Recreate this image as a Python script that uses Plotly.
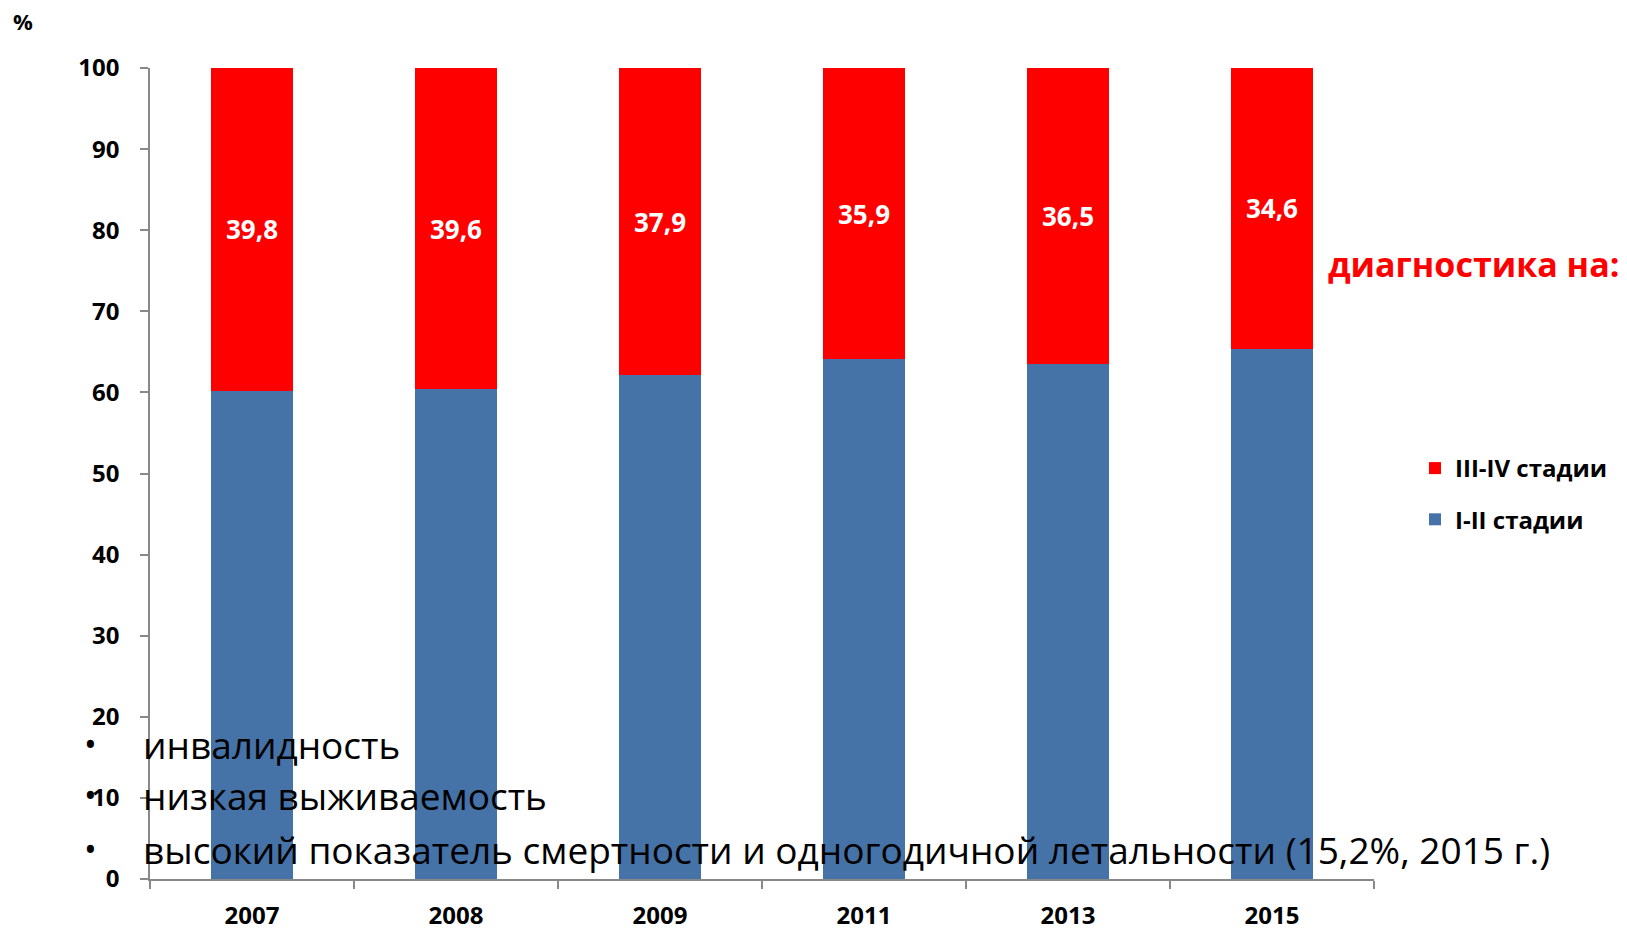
import plotly.graph_objects as go

years = ["2007", "2008", "2009", "2011", "2013", "2015"]
early = [60.2, 60.4, 62.1, 64.1, 63.5, 65.4]      # I-II стадии
late = [39.8, 39.6, 37.9, 35.9, 36.5, 34.6]       # III-IV стадии
late_labels = ["39,8", "39,6", "37,9", "35,9", "36,5", "34,6"]
y_ticks = [0, 10, 20, 30, 40, 50, 60, 70, 80, 90, 100]
bullets = [
    "инвалидность",
    "низкая выживаемость",
    "высокий показатель смертности и одногодичной летальности (15,2%, 2015 г.)",
]

FONT = "Open Sans"
BLUE = "#4572A7"
RED = "#FF0000"

fig = go.Figure()
fig.add_trace(go.Bar(
    x=years, y=early, name="I-II стадии", marker=dict(color=BLUE, line=dict(width=0)),
    legendgroup="a", legendrank=2, hoverinfo="skip",
))
fig.add_trace(go.Bar(
    x=years, y=late, name="III-IV стадии", marker=dict(color=RED, line=dict(width=0)),
    text=late_labels, textposition="inside", insidetextanchor="middle",
    textfont=dict(family=FONT, size=26, color="white", weight="bold"),
    textangle=0, legendgroup="b", legendrank=1, hoverinfo="skip",
))

W, H = 1627, 928
L, R, T, B = 150, 1374, 68, 879


def px(x):
    return (x - L) / (R - L)


def py(y):
    return (B - y) / (B - T)


annotations = [
    dict(text="%", x=px(23), y=py(21), xref="paper", yref="paper", showarrow=False,
         font=dict(family=FONT, size=22, color="black", weight="bold"),
         xanchor="center", yanchor="middle"),
    dict(text="диагностика на:", x=px(1326), y=py(264), xref="paper", yref="paper",
         showarrow=False, font=dict(family=FONT, size=34, color=RED, weight="bold"),
         xanchor="left", yanchor="middle"),
]
line_y = [744, 795, 849]
for txt, ly in zip(bullets, line_y):
    annotations.append(dict(text="•", x=px(90), y=py(ly), xref="paper", yref="paper",
                            showarrow=False, font=dict(family=FONT, size=34, color="black"),
                            xanchor="center", yanchor="middle"))
    annotations.append(dict(text=txt, x=px(141), y=py(ly), xref="paper", yref="paper",
                            showarrow=False, font=dict(family=FONT, size=37, color="black"),
                            xanchor="left", yanchor="middle"))

fig.update_layout(
    width=W, height=H,
    margin=dict(l=L, r=W - R, t=T, b=H - B, pad=0, autoexpand=False),
    barmode="stack", bargap=0.6,
    plot_bgcolor="white", paper_bgcolor="white",
    font=dict(family=FONT, color="black"),
    showlegend=True,
    legend=dict(x=px(1415), y=py(446), xanchor="left", yanchor="top",
                traceorder="grouped", tracegroupgap=17,
                font=dict(family=FONT, size=24, color="black", weight="bold"),
                bgcolor="rgba(0,0,0,0)"),
    annotations=annotations,
    xaxis=dict(
        type="category", showline=True, linecolor="#888888", linewidth=1.5,
        ticks="outside", tickson="boundaries", ticklen=8, tickcolor="#888888", tickwidth=1.5,
        showgrid=False, zeroline=False, automargin=False,
        tickfont=dict(family=FONT, size=24, color="black", weight="bold"),
        ticklabelstandoff=14,
    ),
    yaxis=dict(
        range=[0, 100], tickvals=y_ticks, showline=True, linecolor="#888888", linewidth=1.5,
        ticks="outside", ticklen=8, tickcolor="#888888", tickwidth=1.5,
        showgrid=False, zeroline=False, automargin=False,
        tickfont=dict(family=FONT, size=24, color="black", weight="bold"),
        ticklabelstandoff=16,
    ),
)

fig.write_html("out.html")
